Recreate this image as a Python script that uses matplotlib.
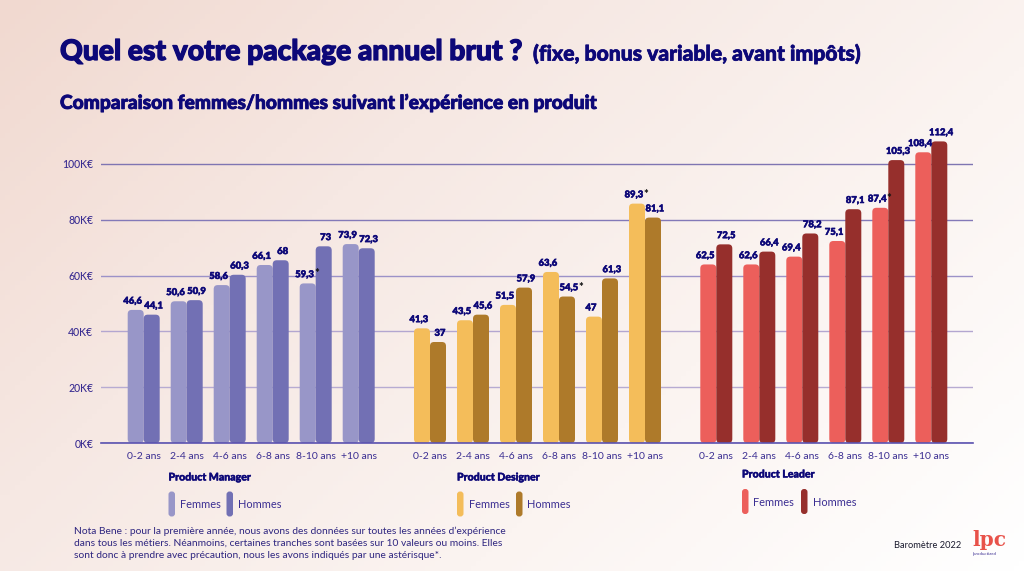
import numpy as np
import matplotlib
matplotlib.use("Agg")
import matplotlib.pyplot as plt
import matplotlib.patheffects as pe
from matplotlib.patches import FancyBboxPatch
from matplotlib.colors import LinearSegmentedColormap

W, H = 1024, 571
categories = ["0-2 ans", "2-4 ans", "4-6 ans", "6-8 ans", "8-10 ans", "+10 ans"]
y_ticks = [0, 20, 40, 60, 80, 100]
y_tick_labels = ["0K€", "20K€", "40K€", "60K€", "80K€", "100K€"]

manager_f = [47.7, 50.8, 56.6, 63.8, 57.2, 71.3]
manager_h = [46.0, 51.2, 60.3, 65.5, 70.5, 69.8]
designer_f = [41.1, 44.0, 49.5, 61.3, 45.3, 85.8]
designer_h = [36.2, 46.0, 55.7, 52.5, 59.0, 80.8]
leader_f = [64.0, 64.0, 66.8, 72.4, 84.3, 104.2]
leader_h = [71.2, 68.6, 75.1, 83.8, 101.4, 108.1]

manager_f_labels = ["46,6", "50,6", "58,6", "66,1", "59,3", "73,9"]
manager_h_labels = ["44,1", "50,9", "60,3", "68", "73", "72,3"]
designer_f_labels = ["41,3", "43,5", "51,5", "63,6", "47", "89,3"]
designer_h_labels = ["37", "45,6", "57,9", "54,5", "61,3", "81,1"]
leader_f_labels = ["62,5", "62,6", "69,4", "75,1", "87,4", "108,4"]
leader_h_labels = ["72,5", "66,4", "78,2", "87,1", "105,3", "112,4"]

NAVY = "#0D0878"
TICK = "#3B2E92"
plt.rcParams["font.family"] = ["Lato", "DejaVu Sans"]


def heavy(w):
    return [pe.withStroke(linewidth=w, foreground=NAVY)]


fig = plt.figure(figsize=(W / 100, H / 100), dpi=100)

# background gradient
bg = fig.add_axes([0, 0, 1, 1], zorder=0)
bg.axis("off")
yy, xx = np.mgrid[0:1:120j, 0:1:200j]
t = np.clip((xx * 0.62 + yy * 0.38) * 1.0, 0, 1)
cmap = LinearSegmentedColormap.from_list("bg", ["#F1D9D0", "#F6E8E3", "#FBF4F1", "#FFFFFF"])
bg.imshow(t, cmap=cmap, aspect="auto", extent=(0, 1, 1, 0), vmin=0, vmax=1)

# main axes: one x unit = one pixel, 2.79 px per thousand euros
PX = 2.79
left, right, base = 101, 973, 443
top_val = 115
ax = fig.add_axes([left / W, 1 - base / H, (right - left) / W, top_val * PX / H], zorder=1)
ax.patch.set_alpha(0)
ax.set_xlim(left, right)
ax.set_ylim(0, top_val)
for s in ax.spines.values():
    s.set_visible(False)
ax.spines["bottom"].set_visible(True)
ax.spines["bottom"].set_color("#5B52B0")
ax.spines["bottom"].set_linewidth(1.2)

ax.set_yticks(y_ticks, y_tick_labels, fontsize=7.6, color=TICK, fontweight="medium")
ax.tick_params(axis="y", length=0, pad=5.5)
ax.tick_params(axis="x", length=0, pad=6.8)
ax.set_axisbelow(True)
ax.grid(axis="y", linewidth=1.0)
for line, c in zip(ax.get_ygridlines(), ["#5B52B0", "#B7ABD2", "#B3A6D0", "#9C92C8", "#8379B8", "#7F75B2"]):
    line.set_color(c)

BW = 16
PITCH = 43
groups = [
    (143.7, manager_f, manager_h, manager_f_labels, manager_h_labels, "#9896C8", "#7270B4", {(4, 0)}),
    (430.0, designer_f, designer_h, designer_f_labels, designer_h_labels, "#F4BD5A", "#AE7A2A", {(3, 1), (5, 0)}),
    (716.3, leader_f, leader_h, leader_f_labels, leader_h_labels, "#EC5F5B", "#962F2C", {(4, 0)}),
]


def rbar(target, x0, y0, w, h, color, r=4, aspect=1 / PX, **kw):
    p = FancyBboxPatch((x0, y0), w, h, boxstyle=f"round,pad=0,rounding_size={r}",
                       mutation_aspect=aspect, fc=color, ec="none", **kw)
    target.add_patch(p)
    return p


xticks, xlabels = [], []
for start, fv, hv, fl, hl, fc, hc, stars in groups:
    for i, cat in enumerate(categories):
        cx = start + i * PITCH
        xticks.append(cx)
        xlabels.append(cat)
        for k, (vals, labs, col, off) in enumerate(((fv, fl, fc, -3), (hv, hl, hc, 2))):
            x0 = cx - BW if k == 0 else cx
            rbar(ax, x0, 0, BW, vals[i], col, zorder=2)
            tx = x0 + BW / 2 + off
            ax.text(tx, vals[i] + 8.7 / PX, labs[i], ha="center", va="center",
                    fontsize=6.8, fontweight="black", color=NAVY, zorder=4,
                    path_effects=heavy(0.4))
            if (i, k) in stars:
                half = len(labs[i]) * 2.5
                ax.text(tx + half + 2, vals[i] + 9.5 / PX, "*", ha="center", va="center",
                        fontsize=8, color="#111111", fontweight="black", zorder=4)
ax.set_xticks(xticks, xlabels, fontsize=7.5, color=TICK)


def fx(x):
    return x / W


def fy(y):
    return 1 - y / H


def label(x, y, s, **kw):
    kw.setdefault("va", "center")
    kw.setdefault("ha", "left")
    return fig.text(fx(x), fy(y), s, **kw)


# overlay axes in pixel coordinates for legends
ov = fig.add_axes([0, 0, 1, 1], zorder=2)
ov.set_xlim(0, W)
ov.set_ylim(H, 0)
ov.axis("off")

legends = [
    ("Product Manager", 168.5, 477, 491.5, 226.5, "#9896C8", "#7270B4"),
    ("Product Designer", 457, 477, 491.5, 516, "#F4BD5A", "#AE7A2A"),
    ("Product Leader", 742, 474, 489, 801, "#EC5F5B", "#962F2C"),
]
for name, x, ty, by, x2, c1, c2 in legends:
    label(x, ty, name, fontsize=7.6, fontweight="black", color=NAVY, zorder=5, path_effects=heavy(0.3))
    rbar(ov, x, by, 6.5, 25, c1, r=3, aspect=1)
    rbar(ov, x2, by, 6.5, 25, c2, r=3, aspect=1)
    label(x + 11.5, by + 13.5, "Femmes", fontsize=7.9, color=TICK, zorder=5)
    label(x2 + 11.5, by + 13.5, "Hommes", fontsize=7.9, color=TICK, zorder=5)

label(60, 52, "Quel est votre package annuel brut ?", fontsize=20.3, fontweight="black",
      color=NAVY, zorder=5, path_effects=heavy(0.9))
label(533, 54, "(fixe, bonus variable, avant impôts)", fontsize=15.2, fontweight="black",
      color=NAVY, zorder=5, path_effects=heavy(0.5))
label(60, 103, "Comparaison femmes/hommes suivant l’expérience en produit", fontsize=13.8,
      fontweight="black", color=NAVY, zorder=5, path_effects=heavy(0.6))

note = ["Nota Bene : pour la première année, nous avons des données sur toutes les années d’expérience",
        "dans tous les métiers. Néanmoins, certaines tranches sont basées sur 10 valeurs ou moins. Elles",
        "sont donc à prendre avec précaution, nous les avons indiqués par une astérisque*."]
for yy_, s in zip([531, 543, 555], note):
    label(74, yy_, s, fontsize=7.42, color="#2F2680", zorder=5)

label(894, 545, "Baromètre 2022", fontsize=6.7, color="#1A1A2E", zorder=5)
label(972.5, 540, "lpc", fontsize=14.5, fontweight="bold", color="#E8524A", zorder=5, family="DejaVu Serif")
label(973, 554, "lproductized", fontsize=3.2, color="#3B2E92", zorder=5)

fig.savefig("out.png", dpi=100)
